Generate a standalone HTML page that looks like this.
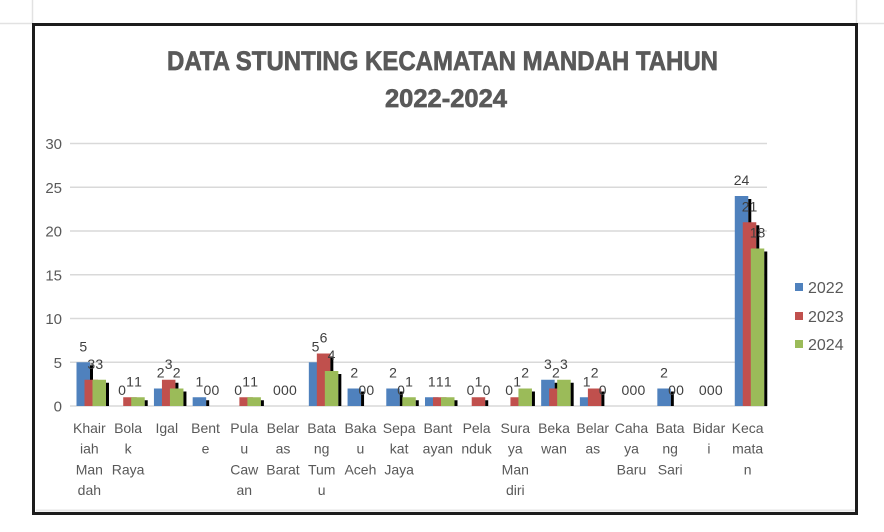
<!DOCTYPE html>
<html><head><meta charset="utf-8"><style>
html,body{margin:0;padding:0;background:#fff;}
svg{display:block;}
text{font-family:"Liberation Sans",Arial,sans-serif;}
</style></head><body>
<svg width="884" height="532" viewBox="0 0 884 532" xmlns="http://www.w3.org/2000/svg">
<rect x="0" y="0" width="884" height="532" fill="#fff"/>
<!-- spreadsheet cell lines -->
<line x1="0" y1="23.5" x2="32" y2="23.5" stroke="#e2e2e2" stroke-width="1.5"/>
<line x1="858" y1="23.5" x2="884" y2="23.5" stroke="#e2e2e2" stroke-width="1.5"/>
<line x1="32.5" y1="0" x2="32.5" y2="23" stroke="#e2e2e2" stroke-width="1.5"/>
<line x1="856.5" y1="0" x2="856.5" y2="23" stroke="#e2e2e2" stroke-width="1.5"/>
<!-- frame -->
<line x1="36" y1="510.5" x2="855" y2="510.5" stroke="#e6e6e6" stroke-width="2"/>
<rect x="33.5" y="24.5" width="823" height="489" fill="none" stroke="#1c1c1c" stroke-width="3"/>
<!-- title -->
<text x="167" y="70" font-size="27" font-weight="bold" fill="#595959" stroke="#595959" stroke-width="0.7" textLength="551" lengthAdjust="spacingAndGlyphs">DATA STUNTING KECAMATAN MANDAH TAHUN</text>
<text x="385" y="107" font-size="25" font-weight="bold" fill="#595959" stroke="#595959" stroke-width="0.7" textLength="122" lengthAdjust="spacingAndGlyphs">2022-2024</text>
<!-- gridlines -->
<g stroke="#d9d9d9" stroke-width="1.5">
<line x1="70" y1="143.5" x2="767" y2="143.5"/>
<line x1="70" y1="187.25" x2="767" y2="187.25"/>
<line x1="70" y1="231" x2="767" y2="231"/>
<line x1="70" y1="274.75" x2="767" y2="274.75"/>
<line x1="70" y1="318.5" x2="767" y2="318.5"/>
<line x1="70" y1="362.25" x2="767" y2="362.25"/>
<line x1="70" y1="406" x2="767" y2="406"/>
</g>
<!-- y labels -->
<g font-size="15" fill="#595959" text-anchor="end">
<text x="62" y="149">30</text>
<text x="62" y="192.75">25</text>
<text x="62" y="236.5">20</text>
<text x="62" y="280.25">15</text>
<text x="62" y="324">10</text>
<text x="62" y="367.75">5</text>
<text x="62" y="411.5">0</text>
</g>
<!-- bars -->
<g>
<rect x="76.5" y="362.25" width="13.5" height="43.75" fill="#4f81bd"/><rect x="90" y="365.25" width="3" height="40.75" fill="#000"/>
<rect x="84.5" y="379.75" width="13.5" height="26.25" fill="#c0504d"/><rect x="98" y="382.75" width="3" height="23.25" fill="#000"/>
<rect x="92.5" y="379.75" width="13.5" height="26.25" fill="#9bbb59"/><rect x="106" y="382.75" width="3" height="23.25" fill="#000"/>
<rect x="123.22" y="397.25" width="13.5" height="8.75" fill="#c0504d"/><rect x="136.72" y="400.25" width="3" height="5.75" fill="#000"/>
<rect x="131.22" y="397.25" width="13.5" height="8.75" fill="#9bbb59"/><rect x="144.72" y="400.25" width="3" height="5.75" fill="#000"/>
<rect x="153.94" y="388.5" width="13.5" height="17.5" fill="#4f81bd"/><rect x="167.44" y="391.5" width="3" height="14.5" fill="#000"/>
<rect x="161.94" y="379.75" width="13.5" height="26.25" fill="#c0504d"/><rect x="175.44" y="382.75" width="3" height="23.25" fill="#000"/>
<rect x="169.94" y="388.5" width="13.5" height="17.5" fill="#9bbb59"/><rect x="183.44" y="391.5" width="3" height="14.5" fill="#000"/>
<rect x="192.67" y="397.25" width="13.5" height="8.75" fill="#4f81bd"/><rect x="206.17" y="400.25" width="3" height="5.75" fill="#000"/>
<rect x="239.39" y="397.25" width="13.5" height="8.75" fill="#c0504d"/><rect x="252.89" y="400.25" width="3" height="5.75" fill="#000"/>
<rect x="247.39" y="397.25" width="13.5" height="8.75" fill="#9bbb59"/><rect x="260.89" y="400.25" width="3" height="5.75" fill="#000"/>
<rect x="308.83" y="362.25" width="13.5" height="43.75" fill="#4f81bd"/><rect x="322.33" y="365.25" width="3" height="40.75" fill="#000"/>
<rect x="316.83" y="353.5" width="13.5" height="52.5" fill="#c0504d"/><rect x="330.33" y="356.5" width="3" height="49.5" fill="#000"/>
<rect x="324.83" y="371" width="13.5" height="35" fill="#9bbb59"/><rect x="338.33" y="374" width="3" height="32" fill="#000"/>
<rect x="347.56" y="388.5" width="13.5" height="17.5" fill="#4f81bd"/><rect x="361.06" y="391.5" width="3" height="14.5" fill="#000"/>
<rect x="386.28" y="388.5" width="13.5" height="17.5" fill="#4f81bd"/><rect x="399.78" y="391.5" width="3" height="14.5" fill="#000"/>
<rect x="402.28" y="397.25" width="13.5" height="8.75" fill="#9bbb59"/><rect x="415.78" y="400.25" width="3" height="5.75" fill="#000"/>
<rect x="425" y="397.25" width="13.5" height="8.75" fill="#4f81bd"/><rect x="438.5" y="400.25" width="3" height="5.75" fill="#000"/>
<rect x="433" y="397.25" width="13.5" height="8.75" fill="#c0504d"/><rect x="446.5" y="400.25" width="3" height="5.75" fill="#000"/>
<rect x="441" y="397.25" width="13.5" height="8.75" fill="#9bbb59"/><rect x="454.5" y="400.25" width="3" height="5.75" fill="#000"/>
<rect x="471.72" y="397.25" width="13.5" height="8.75" fill="#c0504d"/><rect x="485.22" y="400.25" width="3" height="5.75" fill="#000"/>
<rect x="510.44" y="397.25" width="13.5" height="8.75" fill="#c0504d"/><rect x="523.94" y="400.25" width="3" height="5.75" fill="#000"/>
<rect x="518.44" y="388.5" width="13.5" height="17.5" fill="#9bbb59"/><rect x="531.94" y="391.5" width="3" height="14.5" fill="#000"/>
<rect x="541.17" y="379.75" width="13.5" height="26.25" fill="#4f81bd"/><rect x="554.67" y="382.75" width="3" height="23.25" fill="#000"/>
<rect x="549.17" y="388.5" width="13.5" height="17.5" fill="#c0504d"/><rect x="562.67" y="391.5" width="3" height="14.5" fill="#000"/>
<rect x="557.17" y="379.75" width="13.5" height="26.25" fill="#9bbb59"/><rect x="570.67" y="382.75" width="3" height="23.25" fill="#000"/>
<rect x="579.89" y="397.25" width="13.5" height="8.75" fill="#4f81bd"/><rect x="593.39" y="400.25" width="3" height="5.75" fill="#000"/>
<rect x="587.89" y="388.5" width="13.5" height="17.5" fill="#c0504d"/><rect x="601.39" y="391.5" width="3" height="14.5" fill="#000"/>
<rect x="657.33" y="388.5" width="13.5" height="17.5" fill="#4f81bd"/><rect x="670.83" y="391.5" width="3" height="14.5" fill="#000"/>
<rect x="734.78" y="196" width="13.5" height="210" fill="#4f81bd"/><rect x="748.28" y="199" width="3" height="207" fill="#000"/>
<rect x="742.78" y="222.25" width="13.5" height="183.75" fill="#c0504d"/><rect x="756.28" y="225.25" width="3" height="180.75" fill="#000"/>
<rect x="750.78" y="248.5" width="13.5" height="157.5" fill="#9bbb59"/><rect x="764.28" y="251.5" width="3" height="154.5" fill="#000"/>
</g>
<!-- data labels -->
<g font-size="14" fill="#404040" text-anchor="middle">
<text x="83.25" y="351.25">5</text><text x="91.25" y="368.75">3</text><text x="99.25" y="368.75">3</text>
<text x="121.97" y="395">0</text><text x="129.97" y="386.25">1</text><text x="137.97" y="386.25">1</text>
<text x="160.69" y="377.5">2</text><text x="168.69" y="368.75">3</text><text x="176.69" y="377.5">2</text>
<text x="199.42" y="386.25">1</text><text x="207.42" y="395">0</text><text x="215.42" y="395">0</text>
<text x="238.14" y="395">0</text><text x="246.14" y="386.25">1</text><text x="254.14" y="386.25">1</text>
<text x="276.86" y="395">0</text><text x="284.86" y="395">0</text><text x="292.86" y="395">0</text>
<text x="315.58" y="351.25">5</text><text x="323.58" y="342.5">6</text><text x="331.58" y="360">4</text>
<text x="354.31" y="377.5">2</text><text x="362.31" y="395">0</text><text x="370.31" y="395">0</text>
<text x="393.03" y="377.5">2</text><text x="401.03" y="395">0</text><text x="409.03" y="386.25">1</text>
<text x="431.75" y="386.25">1</text><text x="439.75" y="386.25">1</text><text x="447.75" y="386.25">1</text>
<text x="470.47" y="395">0</text><text x="478.47" y="386.25">1</text><text x="486.47" y="395">0</text>
<text x="509.19" y="395">0</text><text x="517.19" y="386.25">1</text><text x="525.19" y="377.5">2</text>
<text x="547.92" y="368.75">3</text><text x="555.92" y="377.5">2</text><text x="563.92" y="368.75">3</text>
<text x="586.64" y="386.25">1</text><text x="594.64" y="377.5">2</text><text x="602.64" y="395">0</text>
<text x="625.36" y="395">0</text><text x="633.36" y="395">0</text><text x="641.36" y="395">0</text>
<text x="664.08" y="377.5">2</text><text x="672.08" y="395">0</text><text x="680.08" y="395">0</text>
<text x="702.81" y="395">0</text><text x="710.81" y="395">0</text><text x="718.81" y="395">0</text>
<text x="741.53" y="185">24</text><text x="749.53" y="211.25">21</text><text x="757.53" y="237.5">18</text>
</g>
<!-- x labels -->
<g font-size="14" fill="#595959" text-anchor="middle">
<text x="89.36" y="433">Khair</text><text x="89.36" y="453.7">iah</text><text x="89.36" y="474.4">Man</text><text x="89.36" y="495.1">dah</text>
<text x="128.08" y="433">Bola</text><text x="128.08" y="453.7">k</text><text x="128.08" y="474.4">Raya</text>
<text x="166.8" y="433">Igal</text>
<text x="205.53" y="433">Bent</text><text x="205.53" y="453.7">e</text>
<text x="244.25" y="433">Pula</text><text x="244.25" y="453.7">u</text><text x="244.25" y="474.4">Caw</text><text x="244.25" y="495.1">an</text>
<text x="282.97" y="433">Belar</text><text x="282.97" y="453.7">as</text><text x="282.97" y="474.4">Barat</text>
<text x="321.69" y="433">Bata</text><text x="321.69" y="453.7">ng</text><text x="321.69" y="474.4">Tum</text><text x="321.69" y="495.1">u</text>
<text x="360.42" y="433">Baka</text><text x="360.42" y="453.7">u</text><text x="360.42" y="474.4">Aceh</text>
<text x="399.14" y="433">Sepa</text><text x="399.14" y="453.7">kat</text><text x="399.14" y="474.4">Jaya</text>
<text x="437.86" y="433">Bant</text><text x="437.86" y="453.7">ayan</text>
<text x="476.58" y="433">Pela</text><text x="476.58" y="453.7">nduk</text>
<text x="515.3" y="433">Sura</text><text x="515.3" y="453.7">ya</text><text x="515.3" y="474.4">Man</text><text x="515.3" y="495.1">diri</text>
<text x="554.03" y="433">Beka</text><text x="554.03" y="453.7">wan</text>
<text x="592.75" y="433">Belar</text><text x="592.75" y="453.7">as</text>
<text x="631.47" y="433">Caha</text><text x="631.47" y="453.7">ya</text><text x="631.47" y="474.4">Baru</text>
<text x="670.19" y="433">Bata</text><text x="670.19" y="453.7">ng</text><text x="670.19" y="474.4">Sari</text>
<text x="708.92" y="433">Bidar</text><text x="708.92" y="453.7">i</text>
<text x="747.64" y="433">Keca</text><text x="747.64" y="453.7">mata</text><text x="747.64" y="474.4">n</text>
</g>
<!-- legend -->
<rect x="795" y="283" width="8" height="8" fill="#4f81bd"/>
<rect x="795" y="312" width="8" height="8" fill="#c0504d"/>
<rect x="795" y="340" width="8" height="8" fill="#9bbb59"/>
<g font-size="16" fill="#595959">
<text x="808" y="293">2022</text>
<text x="808" y="322">2023</text>
<text x="808" y="350">2024</text>
</g>
</svg>
</body></html>
